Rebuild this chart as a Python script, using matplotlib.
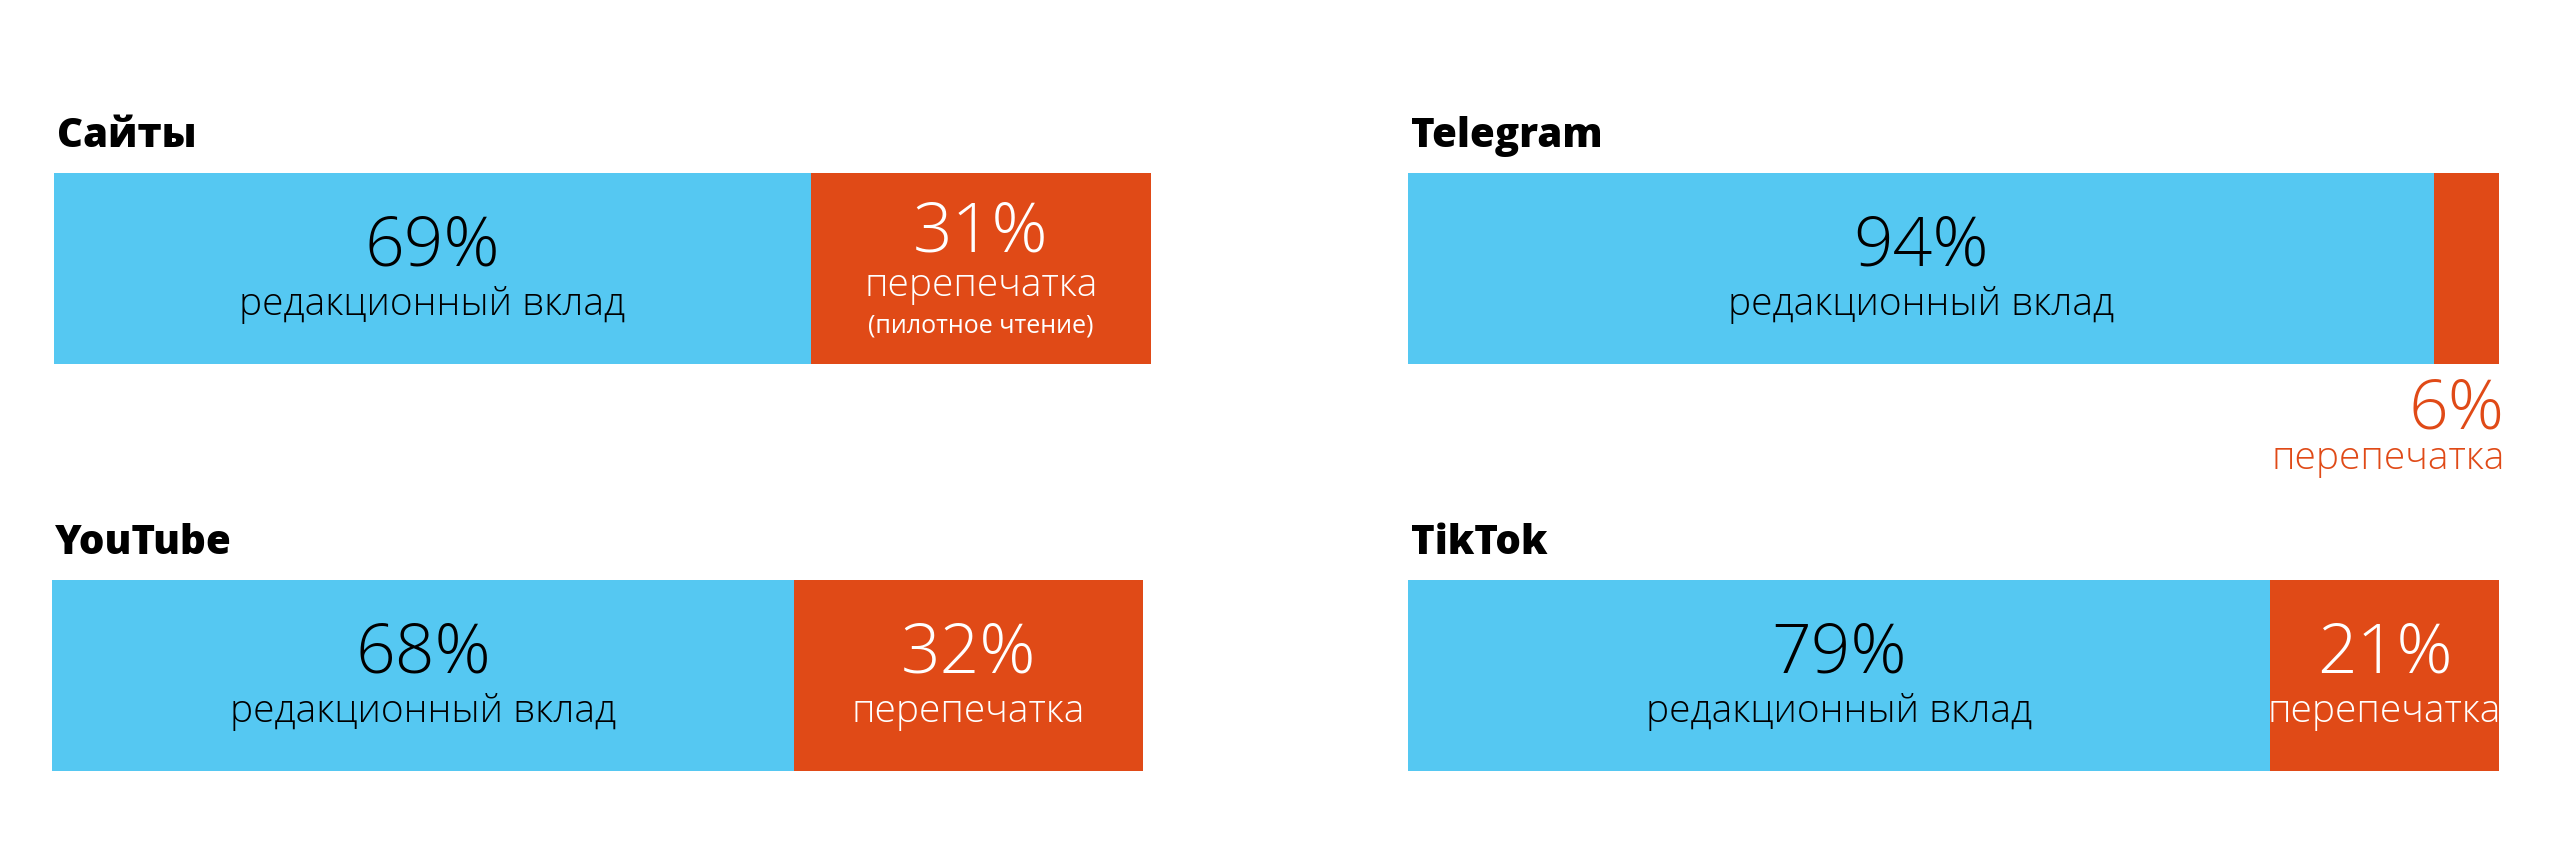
import matplotlib
matplotlib.use("Agg")
import matplotlib.pyplot as plt

# Daten
platforms = ['Сайты', 'Telegram', 'YouTube', 'TikTok']
editorial = [69, 94, 68, 79]
reprint = [31, 6, 32, 21]
editorial_label = 'редакционный вклад'
reprint_label = 'перепечатка'
notes = ['(пилотное чтение)', '', '', '']

BLUE = '#55C8F2'
ORANGE = '#E04A17'

plt.rcParams['font.family'] = ['Open Sans', 'DejaVu Sans']

W, H = 2560, 844
fig = plt.figure(figsize=(W / 100, H / 100), dpi=100)

# Pixel-Rahmen der Balken (links, oben, rechts, unten)
boxes = [(54, 173, 1151, 364), (1408, 173, 2499, 364),
         (52, 580, 1143, 771), (1408, 580, 2499, 771)]

NUM = 50
LAB = 28

for i, (name, ed, rp) in enumerate(zip(platforms, editorial, reprint)):
    l, t, r, b = boxes[i]
    ax = fig.add_axes([l / W, 1 - b / H, (r - l) / W, (b - t) / H])
    ax.barh(0, ed, height=1, color=BLUE, linewidth=0)
    ax.barh(0, rp, left=ed, height=1, color=ORANGE, linewidth=0)
    ax.set_xlim(0, 100)
    ax.set_ylim(-0.5, 0.5)
    ax.axis('off')

    ax.text(0.003, 1.135, name, transform=ax.transAxes, fontsize=29,
            fontweight='heavy', va='baseline', ha='left', color='black')

    ax.text(ed / 2, 0.015, f'{ed}%', fontsize=NUM, fontweight='light',
            ha='center', va='baseline', color='black')
    ax.text(ed / 2, -0.245, editorial_label, fontsize=LAB, fontweight='light',
            ha='center', va='baseline', color='black')

    if rp >= 10:
        cx = ed + rp / 2
        if notes[i]:
            ax.text(cx, 0.09, f'{rp}%', fontsize=NUM, fontweight='light',
                    ha='center', va='baseline', color='white')
            ax.text(cx, -0.146, reprint_label, fontsize=LAB, fontweight='light',
                    ha='center', va='baseline', color='white')
            ax.text(cx, -0.333, notes[i], fontsize=18, fontweight='normal',
                    ha='center', va='baseline', color='white')
        else:
            ax.text(cx, 0.015, f'{rp}%', fontsize=NUM, fontweight='light',
                    ha='center', va='baseline', color='white')
            ax.text(cx, -0.245, reprint_label, fontsize=LAB, fontweight='light',
                    ha='center', va='baseline', color='white')
    else:
        ax.text(100.5, -0.84, f'{rp}%', fontsize=NUM, fontweight='light',
                ha='right', va='baseline', color=ORANGE)
        ax.text(100.5, -1.05, reprint_label, fontsize=LAB, fontweight='light',
                ha='right', va='baseline', color=ORANGE)

fig.savefig('out.png', dpi=100, facecolor='white')
